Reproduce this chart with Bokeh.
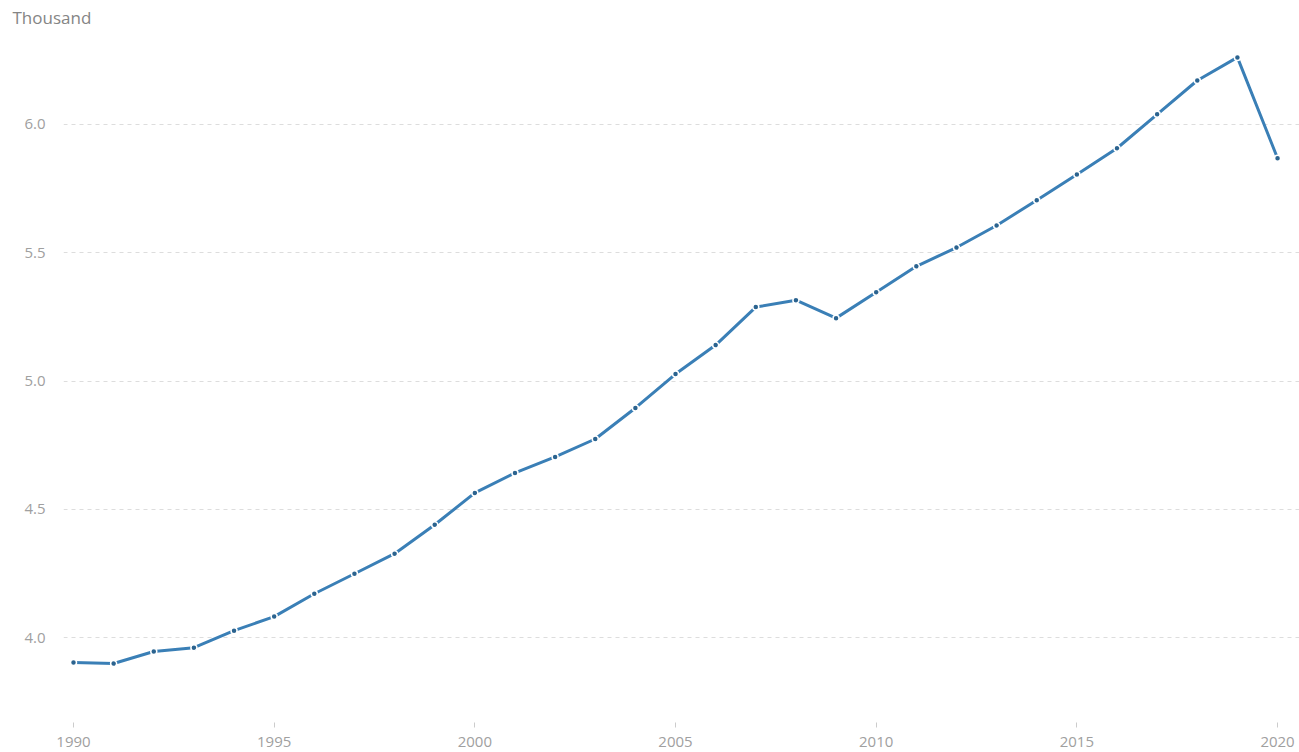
from bokeh.plotting import figure
from bokeh.models import ColumnDataSource, FixedTicker, NumeralTickFormatter, Range1d
from bokeh.embed import file_html
from bokeh.resources import INLINE

years = list(range(1990, 2021))
values = [3.903, 3.899, 3.946, 3.961, 4.027, 4.082, 4.171, 4.249, 4.327, 4.440,
          4.564, 4.642, 4.704, 4.774, 4.895, 5.027, 5.140, 5.288, 5.315, 5.245,
          5.346, 5.447, 5.520, 5.606, 5.704, 5.805, 5.907, 6.039, 6.171, 6.261,
          5.868]
x_ticks = [1990, 1995, 2000, 2005, 2010, 2015, 2020]
y_ticks = [4.0, 4.5, 5.0, 5.5, 6.0]

FONT = "Open Sans"
src = ColumnDataSource(dict(year=years, value=values))

p = figure(width=1299, height=752, output_backend="svg", toolbar_location=None,
           x_range=Range1d(1989.751, 2020.547), y_range=Range1d(3.6693, 6.3619),
           min_border_left=63, min_border_right=0, min_border_top=30, min_border_bottom=30)
p.outline_line_color = None
p.background_fill_color = "white"
p.border_fill_color = "white"

p.title.text = "Thousand"
p.title.align = "left"
p.title.offset = -51
p.title.standoff = 6
p.title.text_font = FONT
p.title.text_font_size = "17px"
p.title.text_font_style = "normal"
p.title.text_color = "#858585"

p.line("year", "value", source=src, line_color="#3a7fb6", line_width=3)
p.scatter("year", "value", source=src, marker="circle", size=6,
          fill_color="#2b638f", line_color="white", line_width=1.5)

# x axis
xa = p.xaxis[0]
xa.ticker = FixedTicker(ticks=x_ticks)
xa.axis_line_color = None
xa.major_tick_in = 0
xa.major_tick_out = 5
xa.major_tick_line_color = "#cccccc"
xa.minor_tick_line_color = None
xa.major_label_text_font = FONT
xa.major_label_text_font_size = "15px"
xa.major_label_text_color = "#a0a0a0"
xa.major_label_standoff = 9

# y axis
ya = p.yaxis[0]
ya.ticker = FixedTicker(ticks=y_ticks)
ya.formatter = NumeralTickFormatter(format="0.0")
ya.axis_line_color = None
ya.major_tick_line_color = None
ya.minor_tick_line_color = None
ya.major_label_text_font = FONT
ya.major_label_text_font_size = "15px"
ya.major_label_text_color = "#a0a0a0"
ya.major_label_standoff = 12

p.xgrid.grid_line_color = None
p.ygrid.grid_line_color = "#dddddd"
p.ygrid.grid_line_dash = "4 4"
p.ygrid.grid_line_width = 1

open("out.html", "w").write(file_html(p, INLINE))
